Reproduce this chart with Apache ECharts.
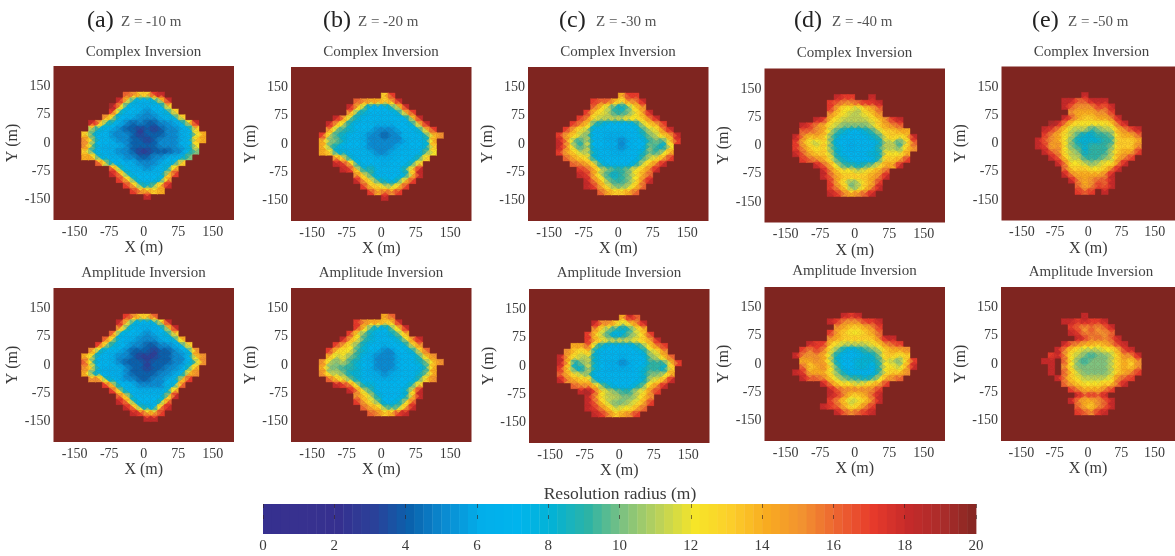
<!DOCTYPE html>
<html><head><meta charset="utf-8">
<style>html,body{margin:0;padding:0;background:#fff}#c{width:1175px;height:556px}</style>
<script src="https://cdn.jsdelivr.net/npm/echarts@6/dist/echarts.min.js"></script>
</head><body><div id="c"></div>
<script>
const xCenters=[-127.5,-112.5,-97.5,-82.5,-67.5,-52.5,-37.5,-22.5,-7.5,7.5,22.5,37.5,52.5,67.5,82.5,97.5,112.5,127.5];
const yCenters=[142.5,127.5,112.5,97.5,82.5,67.5,52.5,37.5,22.5,7.5,-7.5,-22.5,-37.5,-52.5,-67.5,-82.5,-97.5,-112.5,-127.5,-142.5];
const tickValues=[-150,-75,0,75,150];
const barTicks=[0,2,4,6,8,10,12,14,16,18,20];
const barLevels=[0,0.25,0.5,0.75,1,1.25,1.5,1.75,2,2.25,2.5,2.75,3,3.25,3.5,3.75,4,4.25,4.5,4.75,5,5.25,5.5,5.75,6,6.25,6.5,6.75,7,7.25,7.5,7.75,8,8.25,8.5,8.75,9,9.25,9.5,9.75,10,10.25,10.5,10.75,11,11.25,11.5,11.75,12,12.25,12.5,12.75,13,13.25,13.5,13.75,14,14.25,14.5,14.75,15,15.25,15.5,15.75,16,16.25,16.5,16.75,17,17.25,17.5,17.75,18,18.25,18.5,18.75,19,19.25,19.5,19.75];
const colorStops=['#36308f','#37318f','#35308f','#2a4199','#0a62ad','#0a8cd2','#02aeea','#00b4ed','#04b2d4','#2db3a5','#7fc27f','#bcd258','#f6e528','#fcce2a','#f8ab20','#f29230','#ec6230','#e63a2b','#c42a2a','#a82c2a','#7f2520'];

const complexZ10=[
[20,20,20,20,20,20,20,20,20,20,20,20,20,20,20,20,20,20],
[20,20,20,20,20,20,16,15,13,13,17,18,20,20,20,20,20,20],
[20,20,20,20,20,18,13,8,7,7,8,12,18,20,20,20,20,20],
[20,20,20,20,19,14,8,7,6,6,7,7,13,20,20,20,20,20],
[20,20,20,20,17,9,7,7,6,5,6,7,8,13,20,20,20,20],
[20,20,20,15,11,7,6,6,5,5,5,6,7,8,13,20,20,20],
[20,18,15,9,8,6,5,4,5,4,4,5,5,6,7,12,18,20],
[20,11,8,7,6,5,4,4,3,4,3,4,5,5,6,7,13,20],
[13,9,7,7,5,5,5,4,3,4,4,4,5,5,6,7,11,14],
[15,11,7,7,6,5,5,4,4,3,4,5,5,5,6,7,13,14],
[15,10,7,6,6,6,5,4,4,4,4,5,5,5,6,7,12,20],
[13,9,7,6,6,5,5,4,3,3,4,4,4,5,5,8,10,20],
[14,14,8,7,6,6,5,5,4,4,5,5,6,6,7,10,20,20],
[20,20,16,11,7,7,6,6,5,5,5,6,7,8,13,20,20,20],
[20,20,20,20,16,9,7,6,6,5,6,7,8,14,20,20,20,20],
[20,20,20,20,18,15,9,7,7,7,7,7,12,17,20,20,20,20],
[20,20,20,20,20,17,14,9,7,7,7,8,15,20,20,20,20,20],
[20,20,20,20,20,20,17,14,9,8,10,14,18,20,20,20,20,20],
[20,20,20,20,20,20,20,17,15,14,13,14,20,20,20,20,20,20],
[20,20,20,20,20,20,20,20,20,18,20,20,20,20,20,20,20,20]];
const amplitudeZ10=[
[20,20,20,20,20,20,20,20,20,20,20,20,20,20,20,20,20,20],
[20,20,20,20,20,20,17,15,13,13,16,20,20,20,20,20,20,20],
[20,20,20,20,20,18,13,8,7,7,8,12,18,20,20,20,20,20],
[20,20,20,20,20,15,9,7,6,6,6,7,12,18,20,20,20,20],
[20,20,20,20,16,8,7,7,6,5,6,7,8,13,20,20,20,20],
[20,20,20,16,11,7,6,6,5,5,5,6,7,8,14,20,20,20],
[20,20,17,11,8,7,6,5,5,4,4,5,5,6,8,13,20,20],
[20,15,9,7,7,6,5,4,4,4,3,4,4,5,6,8,15,20],
[14,11,7,7,6,5,5,4,3,3,3,4,4,5,5,7,13,15],
[16,10,7,7,6,5,4,4,4,3,4,4,4,5,5,7,10,15],
[15,12,7,6,6,6,5,4,4,3,4,4,5,5,6,9,14,20],
[14,9,8,6,6,6,5,4,4,4,4,5,5,6,7,13,15,20],
[20,15,15,9,7,6,5,5,4,4,5,5,6,7,12,17,20,20],
[20,20,20,17,12,7,7,6,5,5,5,5,7,8,16,20,20,20],
[20,20,20,20,17,11,7,7,6,6,6,6,8,14,20,20,20,20],
[20,20,20,20,20,16,12,7,7,7,7,7,11,18,20,20,20,20],
[20,20,20,20,20,18,15,9,7,7,7,9,16,20,20,20,20,20],
[20,20,20,20,20,20,18,15,9,8,7,15,18,20,20,20,20,20],
[20,20,20,20,20,20,20,18,17,14,14,17,20,20,20,20,20,20],
[20,20,20,20,20,20,20,20,20,18,18,20,20,20,20,20,20,20]];
const complexZ20=[
[20,20,20,20,20,20,20,20,20,20,20,20,20,20,20,20,20,20],
[20,20,20,20,20,20,20,20,20,13,17,20,20,20,20,20,20,20],
[20,20,20,20,20,16,15,14,14,13,14,18,20,20,20,20,20,20],
[20,20,20,20,18,14,10,7,7,7,9,12,18,20,20,20,20,20],
[20,20,20,20,15,9,8,7,7,7,7,8,13,17,20,20,20,20],
[20,20,18,15,10,8,7,7,7,7,7,7,7,12,18,20,20,20],
[20,18,14,11,8,7,7,7,6,6,6,7,7,8,13,18,20,20],
[20,15,10,9,8,7,7,6,5,5,5,6,7,7,8,13,17,20],
[17,11,9,8,7,7,6,5,5,4,5,5,7,7,7,9,13,15],
[14,10,10,8,7,7,6,5,5,5,5,5,6,7,7,8,14,20],
[14,10,8,7,7,7,6,5,5,5,5,6,6,7,7,8,13,20],
[14,13,8,8,7,7,7,6,5,5,6,6,7,7,7,10,12,20],
[20,20,15,12,8,7,7,7,6,6,6,7,7,7,9,13,20,20],
[20,20,18,17,14,8,7,7,7,6,7,7,7,9,13,20,20,20],
[20,20,20,18,17,12,8,9,7,7,7,7,9,13,18,20,20,20],
[20,20,20,20,20,15,12,9,7,7,7,7,8,13,18,20,20,20],
[20,20,20,20,20,18,14,12,9,8,7,9,13,17,20,20,20,20],
[20,20,20,20,20,20,17,13,13,11,11,13,17,20,20,20,20,20],
[20,20,20,20,20,20,20,17,14,16,15,17,20,20,20,20,20,20],
[20,20,20,20,20,20,20,20,20,18,20,20,20,20,20,20,20,20]];
const amplitudeZ20=[
[20,20,20,20,20,20,20,20,20,20,20,20,20,20,20,20,20,20],
[20,20,20,20,20,20,20,20,20,14,16,20,20,20,20,20,20,20],
[20,20,20,20,20,17,15,14,14,13,13,18,20,20,20,20,20,20],
[20,20,20,20,20,17,13,9,8,7,10,13,18,20,20,20,20,20],
[20,20,20,20,17,12,10,8,7,7,8,10,14,20,20,20,20,20],
[20,20,20,18,14,12,9,8,7,7,7,8,11,15,18,20,20,20],
[20,20,17,14,12,10,8,7,7,6,7,7,8,12,15,20,20,20],
[20,17,13,12,12,9,8,7,6,5,5,7,7,8,12,16,20,20],
[20,14,11,12,10,9,7,6,5,5,5,6,7,7,9,13,15,20],
[15,11,10,11,9,8,7,6,5,5,5,6,7,7,8,10,13,15],
[14,10,10,9,9,8,7,6,5,5,5,6,7,7,7,9,14,20],
[15,11,11,10,8,8,7,6,6,5,6,6,7,7,8,10,14,20],
[20,16,13,12,10,8,7,7,6,6,6,7,7,7,9,13,15,20],
[20,20,18,17,15,11,8,8,7,7,7,7,7,9,13,20,20,20],
[20,20,20,20,18,15,11,9,7,7,7,7,8,12,18,20,20,20],
[20,20,20,20,20,15,13,11,8,7,7,7,8,13,18,20,20,20],
[20,20,20,20,20,17,14,12,10,7,7,8,11,16,20,20,20,20],
[20,20,20,20,20,20,16,14,13,10,9,10,14,18,20,20,20,20],
[20,20,20,20,20,20,20,16,15,13,14,17,18,20,20,20,20,20],
[20,20,20,20,20,20,20,20,20,20,20,20,20,20,20,20,20,20]];
const complexZ30=[
[20,20,20,20,20,20,20,20,20,20,20,20,20,20,20,20,20,20],
[20,20,20,20,20,20,20,20,20,14,17,17,20,20,20,20,20,20],
[20,20,20,20,20,17,16,16,14,12,15,15,18,20,20,20,20,20],
[20,20,20,20,20,16,13,11,9,8,10,13,15,20,20,20,20,20],
[20,20,20,20,17,13,12,11,9,9,10,12,14,18,20,20,20,20],
[20,20,20,17,15,12,11,11,11,11,12,12,13,15,18,20,20,20],
[20,20,17,15,13,9,8,7,7,7,7,8,11,13,14,17,20,20],
[20,17,14,12,11,7,7,7,7,7,7,7,9,11,12,15,18,20],
[17,14,13,11,10,7,7,6,6,6,7,7,8,10,11,13,14,18],
[18,15,10,9,11,7,7,6,6,5,6,7,7,9,10,9,13,17],
[18,15,11,9,11,7,7,6,6,5,6,7,7,10,9,8,12,20],
[17,14,13,11,11,8,7,7,6,6,7,7,8,10,9,11,14,20],
[20,16,14,13,12,8,7,7,7,7,7,7,9,11,12,14,17,20],
[20,20,16,15,14,12,8,7,7,7,7,8,11,13,15,18,20,20],
[20,20,20,17,16,14,11,10,9,9,10,12,13,15,18,20,20,20],
[20,20,20,18,17,14,11,9,8,9,10,12,14,16,20,20,20,20],
[20,20,20,20,18,15,13,10,9,9,10,12,15,18,20,20,20,20],
[20,20,20,20,18,17,14,12,10,10,11,13,16,20,20,20,20,20],
[20,20,20,20,20,20,16,14,13,13,14,16,20,20,20,20,20,20],
[20,20,20,20,20,20,20,20,20,20,20,20,20,20,20,20,20,20]];
const amplitudeZ30=[
[20,20,20,20,20,20,20,20,20,20,20,20,20,20,20,20,20,20],
[20,20,20,20,20,20,20,20,20,14,18,16,20,20,20,20,20,20],
[20,20,20,20,20,18,15,15,13,11,13,15,18,20,20,20,20,20],
[20,20,20,20,20,15,12,10,9,8,9,12,14,20,20,20,20,20],
[20,20,20,20,17,13,11,9,7,8,10,11,13,17,20,20,20,20],
[20,20,20,20,17,14,12,11,11,11,11,12,13,14,18,20,20,20],
[20,20,14,14,16,10,8,7,7,7,7,8,10,13,15,17,20,20],
[20,15,13,12,13,8,7,7,7,7,7,7,8,11,12,15,20,20],
[18,14,12,11,11,8,7,7,7,6,7,7,7,10,11,13,16,20],
[18,14,8,10,11,8,7,6,6,5,6,7,7,9,9,9,13,17],
[17,13,9,8,11,8,7,6,6,6,6,7,8,9,9,8,13,20],
[16,14,12,11,10,7,7,7,7,7,7,7,8,10,10,11,14,20],
[18,15,14,13,13,8,7,7,7,7,7,7,8,11,12,14,18,20],
[20,20,16,15,15,13,10,8,7,7,7,8,10,13,15,18,20,20],
[20,20,20,18,19,16,12,11,10,9,9,11,12,15,17,20,20,20],
[20,20,20,20,18,15,12,11,11,10,10,11,13,15,20,20,20,20],
[20,20,20,20,18,16,13,11,10,10,11,12,14,17,20,20,20,20],
[20,20,20,20,18,17,15,13,11,12,12,14,16,20,20,20,20,20],
[20,20,20,20,20,18,17,15,13,14,15,17,20,20,20,20,20,20],
[20,20,20,20,20,20,20,20,20,20,20,20,20,20,20,20,20,20]];
const complexZ40=[
[20,20,20,20,20,20,20,20,20,20,20,20,20,20,20,20,20,20],
[20,20,20,20,20,20,18,17,17,20,20,18,20,20,20,20,20,20],
[20,20,20,20,20,17,16,15,15,16,17,17,18,20,20,20,20,20],
[20,20,20,20,20,17,14,12,12,11,13,14,16,20,20,20,20,20],
[20,20,20,20,20,15,13,12,11,11,12,13,15,20,20,20,20,20],
[20,20,20,18,17,13,12,11,11,11,11,12,13,15,17,18,20,20],
[20,18,17,15,14,12,11,10,10,10,10,11,13,14,15,16,20,20],
[20,16,16,15,14,11,9,8,7,7,8,9,11,13,13,14,14,20],
[18,15,13,14,13,10,8,7,7,7,7,8,9,12,13,12,13,18],
[17,14,12,11,13,10,7,7,6,7,7,7,8,11,11,9,12,16],
[17,15,13,12,13,10,8,7,6,7,7,7,9,11,11,10,13,15],
[18,16,14,13,13,11,8,7,7,7,7,8,8,12,12,12,14,20],
[20,17,16,15,14,12,9,8,7,7,7,7,9,13,13,14,17,20],
[20,20,20,18,16,14,11,9,9,8,9,10,12,14,14,18,20,20],
[20,20,20,20,18,15,13,12,12,11,12,13,14,16,20,20,20,20],
[20,20,20,20,18,16,14,13,13,13,13,14,15,18,20,20,20,20],
[20,20,20,20,20,17,14,12,10,11,13,14,17,20,20,20,20,20],
[20,20,20,20,20,17,15,13,10,11,13,15,18,20,20,20,20,20],
[20,20,20,20,20,18,17,15,14,15,16,18,20,20,20,20,20,20],
[20,20,20,20,20,20,20,20,20,20,20,20,20,20,20,20,20,20]];
const amplitudeZ40=[
[20,20,20,20,20,20,20,20,20,20,20,20,20,20,20,20,20,20],
[20,20,20,20,20,20,20,18,17,18,20,20,20,20,20,20,20,20],
[20,20,20,20,20,18,17,15,15,15,17,17,18,20,20,20,20,20],
[20,20,20,20,20,20,15,14,13,13,14,15,17,20,20,20,20,20],
[20,20,20,20,20,17,14,13,12,12,13,14,16,20,20,20,20,20],
[20,20,20,20,20,15,14,13,13,13,13,13,15,18,18,20,20,20],
[20,20,18,17,17,13,12,11,11,11,11,12,13,15,16,17,20,20],
[20,17,15,17,15,12,10,8,7,8,9,10,11,13,14,14,15,20],
[18,15,15,15,14,11,8,7,7,7,8,8,10,13,13,12,13,20],
[20,14,14,15,14,11,8,7,7,8,8,8,9,12,11,10,13,17],
[20,16,13,14,15,12,9,7,7,8,8,7,9,12,12,11,14,18],
[18,17,14,14,14,12,10,8,7,7,7,7,9,12,13,13,15,20],
[20,18,16,16,15,13,11,10,9,9,8,9,11,14,15,16,20,20],
[20,20,20,20,18,15,13,12,12,11,12,13,14,17,20,20,20,20],
[20,20,20,20,20,18,16,15,15,15,15,15,17,20,20,20,20,20],
[20,20,20,20,20,18,17,15,13,13,14,16,18,20,20,20,20,20],
[20,20,20,20,20,17,15,13,11,12,13,15,18,20,20,20,20,20],
[20,20,20,20,18,17,16,14,12,13,15,17,20,20,20,20,20,20],
[20,20,20,20,20,20,18,16,15,16,17,18,20,20,20,20,20,20],
[20,20,20,20,20,20,20,20,20,20,20,20,20,20,20,20,20,20]];
const complexZ50=[
[20,20,20,20,20,20,20,20,20,20,20,20,20,20,20,20,20,20],
[20,20,20,20,20,20,20,20,18,20,20,20,20,20,20,20,20,20],
[20,20,20,20,20,18,18,16,16,18,18,18,20,20,20,20,20,20],
[20,20,20,20,20,18,16,15,15,15,17,16,18,20,20,20,20,20],
[20,20,20,20,20,20,15,14,14,14,15,15,17,20,20,20,20,20],
[20,20,20,20,20,18,16,14,13,13,14,14,15,18,20,20,20,20],
[20,20,20,19,18,15,13,12,12,12,12,12,13,16,18,20,20,20],
[20,20,18,17,15,13,11,11,11,9,10,11,11,14,15,17,18,20],
[20,20,17,15,14,12,11,9,8,8,9,9,10,13,14,14,16,20],
[20,18,16,15,14,12,10,8,8,8,8,9,9,13,13,13,14,20],
[20,18,17,14,15,12,10,9,8,9,9,9,10,13,13,13,15,20],
[20,20,18,16,15,12,11,10,8,9,9,9,11,13,14,14,17,20],
[20,20,20,18,16,13,11,11,9,9,9,10,11,14,15,17,20,20],
[20,20,20,20,18,15,12,12,11,10,11,12,12,15,18,20,20,20],
[20,20,20,20,20,16,13,13,13,12,12,13,15,18,20,20,20,20],
[20,20,20,20,20,18,15,14,14,14,14,15,18,20,20,20,20,20],
[20,20,20,20,20,20,18,15,14,15,16,16,18,20,20,20,20,20],
[20,20,20,20,20,20,20,16,14,15,17,16,18,20,20,20,20,20],
[20,20,20,20,20,20,20,17,16,17,20,18,20,20,20,20,20,20],
[20,20,20,20,20,20,20,20,20,20,20,20,20,20,20,20,20,20]];
const amplitudeZ50=[
[20,20,20,20,20,20,20,20,20,20,20,20,20,20,20,20,20,20],
[20,20,20,20,20,20,20,20,18,20,20,20,20,20,20,20,20,20],
[20,20,20,20,20,18,18,17,18,17,17,18,20,20,20,20,20,20],
[20,20,20,20,20,20,17,16,15,16,15,16,18,20,20,20,20,20],
[20,20,20,20,20,20,18,17,15,16,15,15,16,20,20,20,20,20],
[20,20,20,20,20,20,20,18,17,15,16,15,16,18,20,20,20,20],
[20,20,20,20,20,18,16,15,14,14,13,14,15,17,18,20,20,20],
[20,20,20,20,18,15,13,12,11,11,11,12,12,14,17,18,20,20],
[20,20,20,17,18,15,12,11,10,9,10,10,11,13,15,15,18,20],
[20,20,18,18,20,16,12,10,9,10,10,10,11,13,14,13,15,20],
[20,20,20,18,20,15,12,10,10,10,10,10,11,13,14,13,15,20],
[20,20,20,18,20,16,13,11,10,10,10,10,11,13,14,15,17,20],
[20,20,20,20,18,15,13,12,11,11,11,11,12,15,16,17,20,20],
[20,20,20,20,20,16,14,13,12,12,12,13,13,16,18,20,20,20],
[20,20,20,20,20,20,17,15,14,14,14,15,17,20,20,20,20,20],
[20,20,20,20,20,20,20,18,16,17,16,18,20,20,20,20,20,20],
[20,20,20,20,20,20,18,15,14,14,15,16,18,20,20,20,20,20],
[20,20,20,20,20,20,20,16,14,13,15,16,18,20,20,20,20,20],
[20,20,20,20,20,20,20,17,16,15,17,18,20,20,20,20,20,20],
[20,20,20,20,20,20,20,20,20,20,20,20,20,20,20,20,20,20]];

const matrices=[complexZ10,complexZ20,complexZ30,complexZ40,complexZ50,amplitudeZ10,amplitudeZ20,amplitudeZ30,amplitudeZ40,amplitudeZ50];
const depthLetters=['(a)','(b)','(c)','(d)','(e)'];
const depthLabels=['Z = -10 m','Z = -20 m','Z = -30 m','Z = -40 m','Z = -50 m'];
const letterLeft=[87,323,559,794,1032];
const depthLeft=[121,358,596,832,1068];
const panelLeft=[53.5,291,528,764.5,1001.5,53.5,291,529,764.5,1001];
const panelTop=[66,67,67,68.5,66.5,288,288,289,287,287];
const titleY=[44.5,44.5,44.5,45.5,44.5,266,266,266,264,265];
const FONT='"Liberation Serif"';
const INK='#3a3a3a';
const colorOf=v=>echarts.color.lerp(v/20,colorStops);

const grids=[],xAxes=[],yAxes=[],series=[],titles=[];
depthLetters.forEach((t,i)=>{
  titles.push({text:t,left:letterLeft[i],top:9,padding:0,textStyle:{fontFamily:FONT,fontSize:24,fontWeight:'normal',color:'#222'}});
  titles.push({text:depthLabels[i],left:depthLeft[i],top:14.5,padding:0,textStyle:{fontFamily:FONT,fontSize:15,fontWeight:'normal',color:'#555'}});
});
// each cell is drawn as four triangles around its centre, like the reference's triangular mesh;
// a side facing a value-20 cell keeps the cell's own colour so the edge stays tight and jagged
const cell=(params,api)=>{
  const x=api.value(0),y=api.value(1),v=api.value(2);
  const tl=api.coord([x-7.5,y+7.5]),tr=api.coord([x+7.5,y+7.5]),br=api.coord([x+7.5,y-7.5]),bl=api.coord([x-7.5,y-7.5]),c=api.coord([x,y]);
  const tri=(a,b,n)=>{
    const col=colorOf(n>=20?v:0.65*v+0.35*n);
    return {type:'polygon',shape:{points:[a,b,c]},style:{fill:col,stroke:col,lineWidth:0.4}};
  };
  return {type:'group',children:[tri(tl,tr,api.value(3)),tri(tr,br,api.value(4)),tri(br,bl,api.value(5)),tri(bl,tl,api.value(6))]};
};
matrices.forEach((m,k)=>{
  grids.push({left:panelLeft[k],top:panelTop[k],width:180.5,height:154,show:true,backgroundColor:colorStops[20],borderWidth:0});
  xAxes.push({gridIndex:k,type:'value',min:-196,max:196,name:'X (m)',nameLocation:'middle',nameGap:18,
    nameTextStyle:{fontFamily:FONT,fontSize:16,color:INK},
    axisLine:{show:false},axisTick:{show:false},splitLine:{show:false},
    axisLabel:{customValues:tickValues,margin:5,fontFamily:FONT,fontSize:14,color:INK,hideOverlap:false}});
  yAxes.push({gridIndex:k,type:'value',min:-204,max:204,name:'Y (m)',nameLocation:'middle',nameGap:32,
    nameTextStyle:{fontFamily:FONT,fontSize:16,color:INK},
    axisLine:{show:false},axisTick:{show:false},splitLine:{show:false},
    axisLabel:{customValues:tickValues,margin:3,fontFamily:FONT,fontSize:14,color:INK}});
  const data=[];
  const at=(r,c)=>(m[r]&&m[r][c]!==undefined)?m[r][c]:20;
  m.forEach((row,r)=>row.forEach((v,c)=>{
    if(v<20) data.push([xCenters[c],yCenters[r],v,at(r-1,c),at(r,c+1),at(r+1,c),at(r,c-1)]);
  }));
  series.push({type:'custom',coordinateSystem:'cartesian2d',xAxisIndex:k,yAxisIndex:k,clip:true,silent:true,
    renderItem:cell,encode:{x:0,y:1},data});
  titles.push({text:k<5?'Complex Inversion':'Amplitude Inversion',left:panelLeft[k]+90,top:titleY[k],textAlign:'center',padding:0,
    textStyle:{fontFamily:FONT,fontSize:15,fontWeight:'normal',color:'#444'}});
});
// colour bar
grids.push({left:263,top:504,width:713,height:30,show:false});
const barTick={show:true,inside:true,length:4,lineStyle:{color:'rgba(50,30,30,0.6)',width:1}};
xAxes.push({gridIndex:10,type:'value',min:0,max:20,interval:2,position:'bottom',
  axisLine:{show:false},splitLine:{show:false},axisTick:barTick,z:5,
  axisLabel:{margin:5,fontFamily:FONT,fontSize:15,color:INK,formatter:v=>barTicks.includes(v)?String(v):''}});
xAxes.push({gridIndex:10,type:'value',min:0,max:20,interval:2,position:'top',
  axisLine:{show:false},splitLine:{show:false},axisTick:barTick,axisLabel:{show:false},z:5});
yAxes.push({gridIndex:10,type:'value',min:-1,max:1,show:false});
series.push({type:'custom',coordinateSystem:'cartesian2d',xAxisIndex:10,yAxisIndex:10,silent:true,
  renderItem:(params,api)=>{
    const v=api.value(0);
    const p=api.coord([v,1]),q=api.coord([v+0.25,-1]);
    return {type:'rect',shape:{x:p[0],y:p[1],width:q[0]-p[0]+0.4,height:q[1]-p[1]},style:{fill:colorOf(v)}};
  },encode:{x:0,y:1},data:barLevels.map(v=>[v,0])});
titles.push({text:'Resolution radius (m)',left:620,top:485,textAlign:'center',padding:0,textStyle:{fontFamily:FONT,fontSize:17.5,fontWeight:'normal',color:INK}});

const chart=echarts.init(document.getElementById('c'),null,{renderer:'canvas'});
chart.setOption({animation:false,backgroundColor:'#fff',title:titles,grid:grids,xAxis:xAxes,yAxis:yAxes,series});
</script></body></html>
